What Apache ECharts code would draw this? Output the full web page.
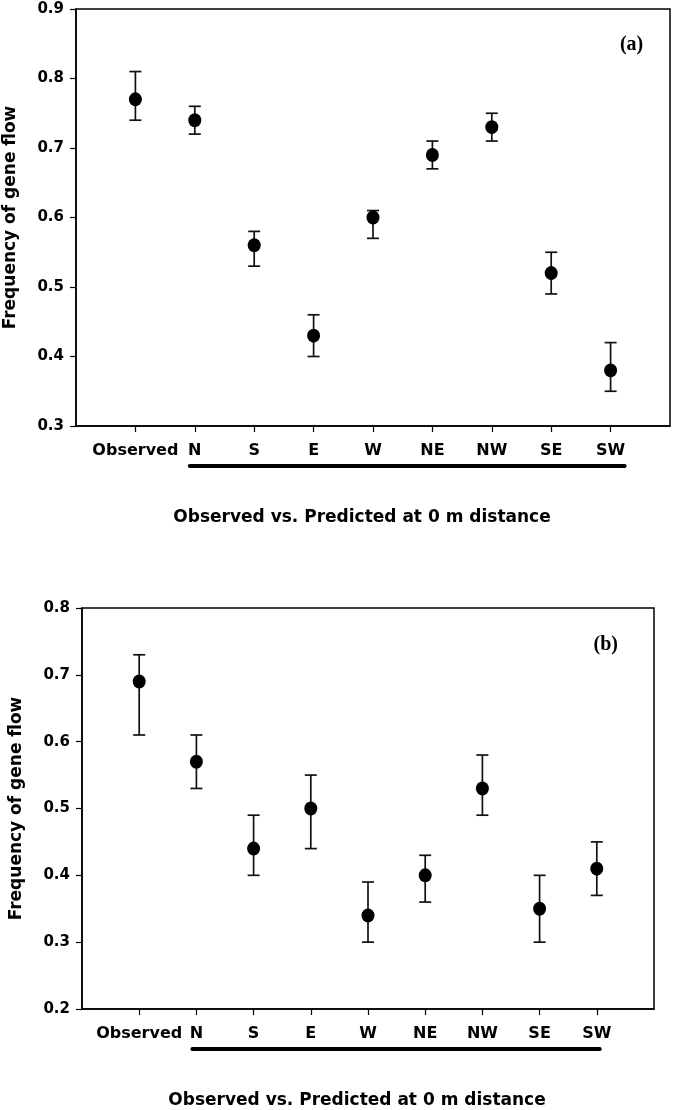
<!DOCTYPE html>
<html>
<head>
<meta charset="utf-8">
<script src="https://cdn.jsdelivr.net/npm/echarts@6/dist/echarts.min.js"></script>
<style>html,body{margin:0;padding:0;background:#fff}#c{width:675px;height:1110px}</style>
</head>
<body>
<div id="c"></div>
<script>
const categories = ['Observed', 'N', 'S', 'E', 'W', 'NE', 'NW', 'SE', 'SW'];
// Panel (a)
const meanA = [0.77, 0.74, 0.56, 0.43, 0.60, 0.69, 0.73, 0.52, 0.38];
const lowA  = [0.74, 0.72, 0.53, 0.40, 0.57, 0.67, 0.71, 0.49, 0.35];
const highA = [0.81, 0.76, 0.58, 0.46, 0.61, 0.71, 0.75, 0.55, 0.42];
// Panel (b)
const meanB = [0.69, 0.57, 0.44, 0.50, 0.34, 0.40, 0.53, 0.35, 0.41];
const lowB  = [0.61, 0.53, 0.40, 0.44, 0.30, 0.36, 0.49, 0.30, 0.37];
const highB = [0.73, 0.61, 0.49, 0.55, 0.39, 0.43, 0.58, 0.40, 0.45];
const yRangeA = [0.3, 0.9];
const yRangeB = [0.2, 0.8];
const yTitle = 'Frequency of gene flow';
const xTitle = 'Observed vs. Predicted at 0 m distance';
const panelLabels = ['(a)', '(b)'];

const idx = categories.map((_, i) => i);
const SANS = 'DejaVu Sans';
const chart = echarts.init(document.getElementById('c'), null, {renderer: 'canvas'});

function xAxisFor(g) {
  return {
    type: 'value', gridIndex: g, min: -1, max: 9, interval: 1,
    splitLine: {show: false},
    axisLine: {show: true, onZero: false, lineStyle: {color: '#000', width: 1.5}},
    axisTick: {show: true, inside: false, length: 6, customValues: idx, lineStyle: {color: '#000', width: 1.2}},
    axisLabel: {customValues: idx, formatter: v => categories[Math.round(v)] || '',
      margin: 17, color: '#000', fontFamily: SANS, fontWeight: 'bold', fontSize: 16},
    name: xTitle, nameLocation: 'middle', nameGap: 83,
    nameTextStyle: {color: '#000', fontFamily: SANS, fontWeight: 'bold', fontSize: 17, padding: [0, 22, 0, 0]}
  };
}
function yAxisFor(g, r) {
  return {
    type: 'value', gridIndex: g, min: r[0], max: r[1], interval: 0.1,
    splitLine: {show: false},
    axisLine: {show: true, onZero: false, lineStyle: {color: '#000', width: 1.5}},
    axisTick: {show: true, inside: false, length: 6, lineStyle: {color: '#000', width: 1.2}},
    axisLabel: {formatter: v => v.toFixed(1), margin: 12, color: '#000',
      fontFamily: SANS, fontWeight: 'bold', fontSize: 15},
    name: yTitle, nameLocation: 'middle', nameGap: 57, nameRotate: 90,
    nameTextStyle: {color: '#000', fontFamily: SANS, fontWeight: 'bold', fontSize: 17}
  };
}
function errData(low, high) { return idx.map(i => [i, low[i], high[i]]); }
function errSeries(g, low, high) {
  return {
    type: 'custom', xAxisIndex: g, yAxisIndex: g, z: 2,
    data: errData(low, high),
    renderItem: function (params, api) {
      const lo = api.coord([api.value(0), api.value(1)]);
      const hi = api.coord([api.value(0), api.value(2)]);
      const hw = 6;
      const st = {stroke: '#111', lineWidth: 1.7};
      return {type: 'group', children: [
        {type: 'line', shape: {x1: lo[0], y1: lo[1], x2: hi[0], y2: hi[1]}, style: st},
        {type: 'line', shape: {x1: lo[0] - hw, y1: lo[1], x2: lo[0] + hw, y2: lo[1]}, style: st},
        {type: 'line', shape: {x1: hi[0] - hw, y1: hi[1], x2: hi[0] + hw, y2: hi[1]}, style: st}
      ]};
    }
  };
}
function pointSeries(g, mean) {
  return {
    type: 'scatter', xAxisIndex: g, yAxisIndex: g, z: 3,
    symbol: 'circle', symbolSize: [13, 14],
    itemStyle: {color: '#000', opacity: 1},
    data: idx.map(i => [i, mean[i]])
  };
}

const gridCommon = {show: true, borderColor: '#000', borderWidth: 1.5, backgroundColor: 'transparent',
  containLabel: false, outerBoundsMode: 'none'};
chart.setOption({
  animation: false,
  backgroundColor: '#fff',
  grid: [
    Object.assign({left: 76, top: 9, right: 5, height: 417}, gridCommon),
    Object.assign({left: 82, top: 608, right: 21, height: 401}, gridCommon)
  ],
  xAxis: [xAxisFor(0), xAxisFor(1)],
  yAxis: [yAxisFor(0, yRangeA), yAxisFor(1, yRangeB)],
  series: [
    errSeries(0, lowA, highA), pointSeries(0, meanA),
    errSeries(1, lowB, highB), pointSeries(1, meanB)
  ]
});

// Underline below the predicted directions (N..SW) and panel letters
function underline(g, yMin, padL, padR) {
  const a = chart.convertToPixel({gridIndex: g}, [1, yMin]);
  const b = chart.convertToPixel({gridIndex: g}, [8, yMin]);
  return {type: 'line', shape: {x1: a[0] - padL, y1: a[1] + 40, x2: b[0] + padR, y2: b[1] + 40},
    style: {stroke: '#000', lineWidth: 4, lineCap: 'round'}};
}
function letter(g, yMax, text, dx, dy) {
  const p = chart.convertToPixel({gridIndex: g}, [8, yMax]);
  return {type: 'text', x: p[0] + dx, y: p[1] + dy,
    style: {text: text, fill: '#000', font: 'bold 20px "Liberation Serif", "Times New Roman", serif',
      align: 'center', verticalAlign: 'middle'}};
}
chart.setOption({
  graphic: [
    underline(0, yRangeA[0], 5, 14),
    underline(1, yRangeB[0], 4, 3),
    letter(0, yRangeA[1], panelLabels[0], 21, 36),
    letter(1, yRangeB[1], panelLabels[1], 9, 37)
  ]
});
</script>
</body>
</html>
